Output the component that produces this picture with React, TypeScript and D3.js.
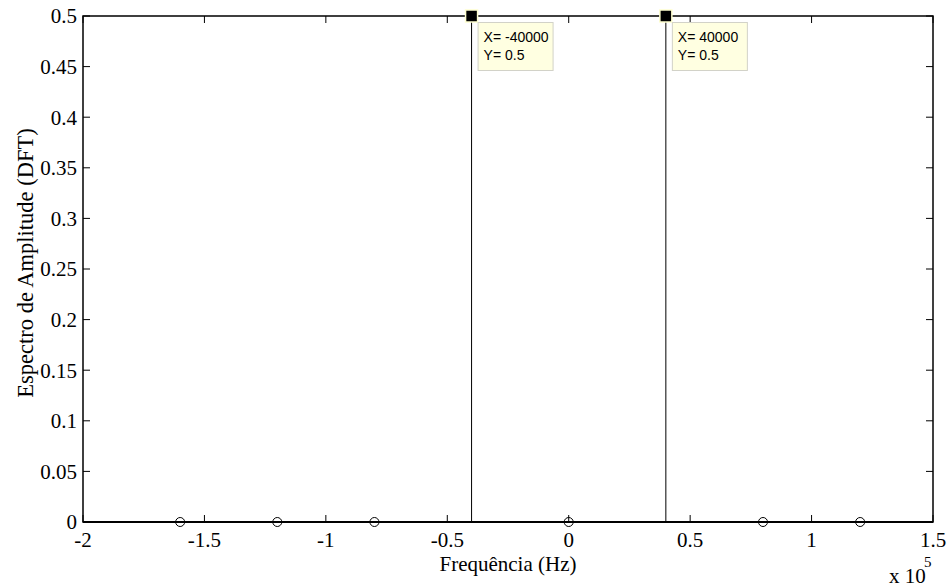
import React from "react";
import * as d3 from "d3";

// Stem spectrum: frequency bins (Hz) and DFT amplitude
const freqs = [-160000, -120000, -80000, -40000, 0, 40000, 80000, 120000];
const amps = [0, 0, 0, 0.5, 0, 0.5, 0, 0];

const xTicks = [-2, -1.5, -1, -0.5, 0, 0.5, 1, 1.5];
const yTicks = [0, 0.05, 0.1, 0.15, 0.2, 0.25, 0.3, 0.35, 0.4, 0.45, 0.5];

// Data tips pinned on the two peaks
const tipX = [-40000, 40000];
const tipY = [0.5, 0.5];

const W = 948;
const H = 587;
const M = { left: 83, right: 933, top: 16, bottom: 522 };

const serif = "Liberation Serif";
const sans = "Liberation Sans";

export default function App() {
  const x = d3.scaleLinear().domain([-2e5, 1.5e5]).range([M.left, M.right]);
  const y = d3.scaleLinear().domain([0, 0.5]).range([M.bottom, M.top]);
  const tickLen = 7;
  const fmtY = (v: number) => d3.format("~g")(+v.toFixed(2));
  const serifStyle = { fontFamily: serif };
  const sansStyle = { fontFamily: sans };

  return (
    <svg
      width={W}
      height={H}
      style={{ position: "absolute", left: 0, top: 0, background: "#fff" }}
    >
      <rect x={0} y={0} width={W} height={H} fill="#fff" />

      {/* ticks on all four sides, pointing inward */}
      {xTicks.map((t) => (
        <g key={"xt" + t}>
          <line x1={x(t * 1e5)} x2={x(t * 1e5)} y1={M.bottom} y2={M.bottom - tickLen} stroke="#000" />
          <line x1={x(t * 1e5)} x2={x(t * 1e5)} y1={M.top} y2={M.top + tickLen} stroke="#000" />
          <text
            x={x(t * 1e5)}
            y={547}
            textAnchor="middle"
            style={serifStyle}
            fontSize={21}
            fill="#000"
          >
            {String(t)}
          </text>
        </g>
      ))}
      {yTicks.map((t) => (
        <g key={"yt" + t}>
          <line x1={M.left} x2={M.left + tickLen} y1={y(t)} y2={y(t)} stroke="#000" />
          <line x1={M.right} x2={M.right - tickLen} y1={y(t)} y2={y(t)} stroke="#000" />
          <text
            x={77}
            y={y(t)}
            dy="0.35em"
            textAnchor="end"
            style={serifStyle}
            fontSize={21}
            fill="#000"
          >
            {fmtY(t)}
          </text>
        </g>
      ))}

      {/* stems */}
      {freqs.map((f, i) => (
        <line
          key={"s" + i}
          x1={x(f)}
          x2={x(f)}
          y1={y(0)}
          y2={y(amps[i])}
          stroke="#000"
          strokeWidth={1}
        />
      ))}
      {/* baseline */}
      <line x1={M.left} x2={M.right} y1={y(0)} y2={y(0)} stroke="#000" strokeWidth={2} />

      {/* axes box */}
      <rect
        x={M.left}
        y={M.top}
        width={M.right - M.left}
        height={M.bottom - M.top}
        fill="none"
        stroke="#000"
        strokeWidth={1.5}
      />

      {/* stem markers */}
      {freqs.map((f, i) => (
        <circle
          key={"c" + i}
          cx={x(f)}
          cy={y(amps[i])}
          r={4.5}
          fill="none"
          stroke="#000"
          strokeWidth={1}
        />
      ))}

      {/* data tips */}
      {tipX.map((tx, i) => {
        const px = x(tx);
        const py = y(tipY[i]);
        return (
          <g key={"tip" + i}>
            <rect x={px - 6} y={py - 6} width={12} height={12} fill="#000" stroke="#ffffd0" strokeWidth={1.5} />
            <rect
              x={px + 6.5}
              y={py + 6.5}
              width={75}
              height={48}
              fill="#ffffe1"
              stroke="#d2d2c8"
              strokeWidth={1}
            />
            <text x={px + 12} y={py + 26} style={sansStyle} fontSize={14} fill="#000">
              {`X= ${tx}`}
            </text>
            <text x={px + 12} y={py + 44} style={sansStyle} fontSize={14} fill="#000">
              {`Y= ${tipY[i]}`}
            </text>
          </g>
        );
      })}

      {/* axis labels */}
      <text
        x={(M.left + M.right) / 2}
        y={571}
        textAnchor="middle"
        style={serifStyle}
        fontSize={21}
        fill="#000"
      >
        Frequência (Hz)
      </text>
      <text
        transform={`translate(33, ${(M.top + M.bottom) / 2 - 6}) rotate(-90)`}
        textAnchor="middle"
        style={serifStyle}
        fontSize={22.5}
        fill="#000"
      >
        Espectro de Amplitude (DFT)
      </text>

      {/* exponent multiplier */}
      <text x={889} y={583} style={serifStyle} fontSize={21} fill="#000">
        x 10
      </text>
      <text x={924} y={567} style={serifStyle} fontSize={15} fill="#000">
        5
      </text>
    </svg>
  );
}
